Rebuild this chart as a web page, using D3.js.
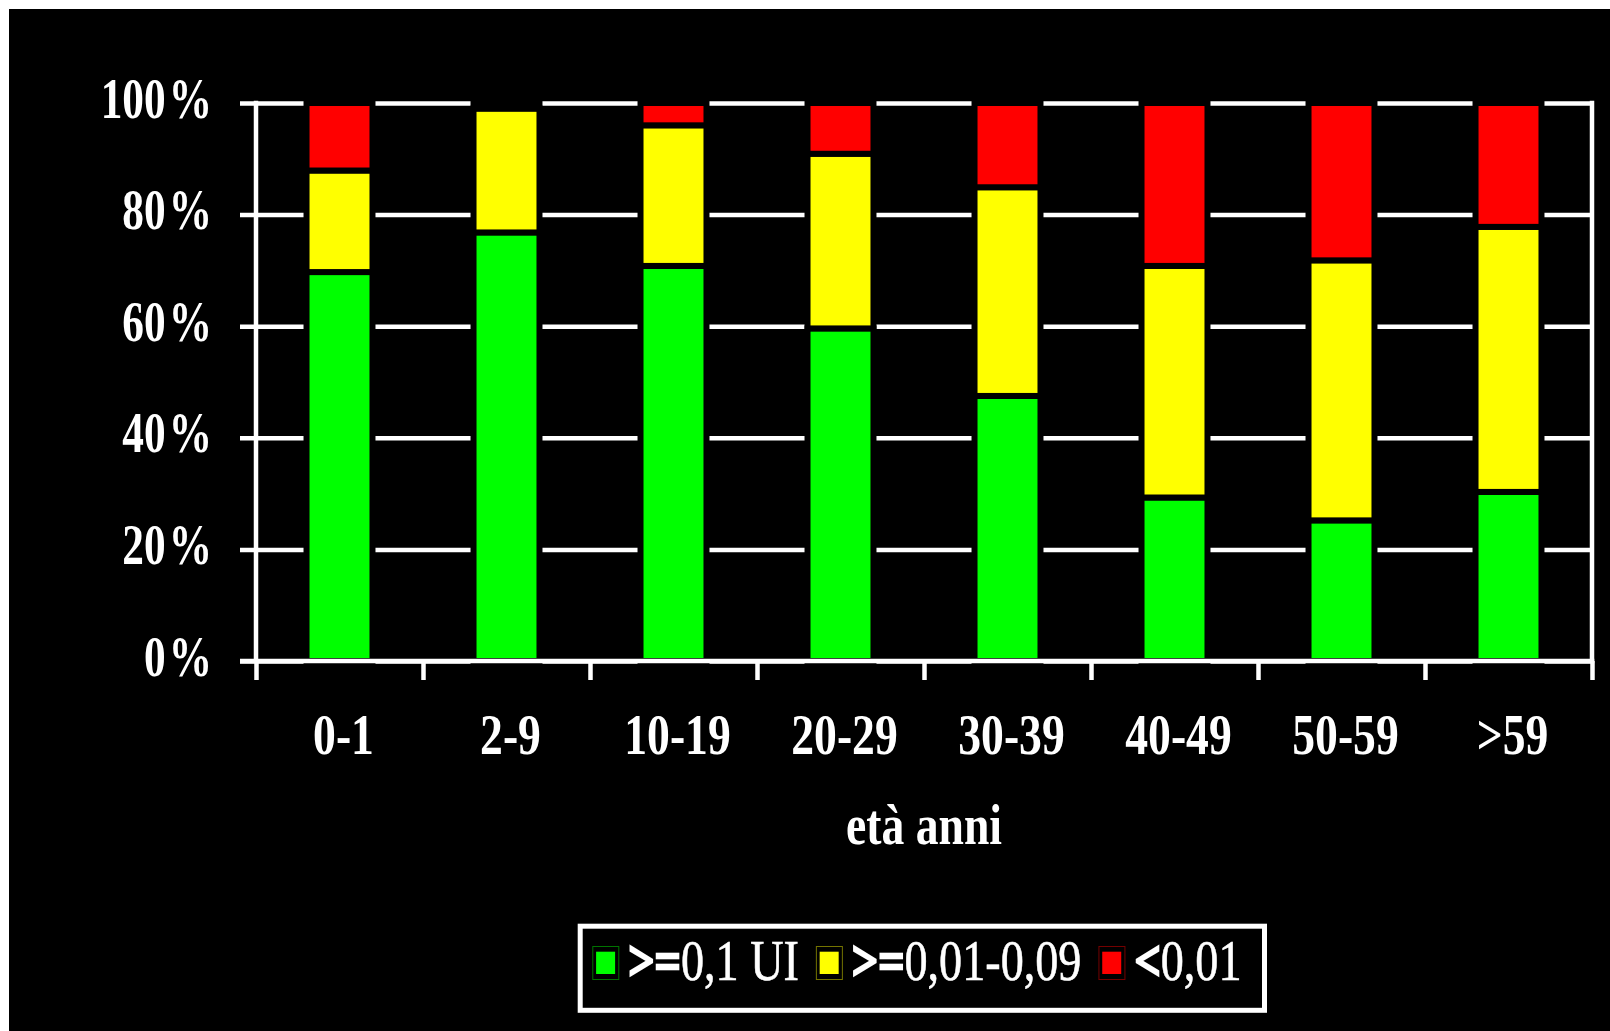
<!DOCTYPE html>
<html>
<head>
<meta charset="utf-8">
<script src="https://cdn.jsdelivr.net/npm/d3@7"></script>
<style>
  html, body { margin: 0; padding: 0; background: #fff; }
  svg { display: block; }
  text { font-family: "Liberation Serif", "Times New Roman", serif; fill: #fff; }
</style>
</head>
<body>
<svg id="chart" width="1610" height="1031"></svg>
<script>
// Age groups (years)
const categories = ["0-1", "2-9", "10-19", "20-29", "30-39", "40-49", "50-59", ">59"];

// Share of subjects per antibody level class (%)
const seriesHigh = [69.7, 76.8, 70.8, 59.6, 47.5, 29.3, 25.2, 30.3];   // >=0,1 UI
const seriesMid  = [18.2, 22.2, 25.2, 31.3, 37.4, 41.5, 46.6, 47.5];   // >=0,01-0,09
const seriesLow  = [12.1,  1.0,  4.0,  9.1, 15.1, 29.2, 28.2, 22.2];   // <0,01

const seriesNames  = [">=0,1 UI", ">=0,01-0,09", "<0,01"];
const seriesColors = ["#00ff00", "#ffff00", "#ff0000"];
const yTicks = [0, 20, 40, 60, 80, 100];
const xTitle = "età anni";

// ---- layout ----
const svg = d3.select("#chart");
const W = 1610, H = 1031;
const plot = { left: 256, right: 1592, top: 103, bottom: 661 };
const lineW = 4.5;
const sx = 0.8;          // horizontal condensing of the serif labels
const fontSize = 57;

// frame: thin white edge at top/left, black canvas
svg.append("rect").attr("x", 0).attr("y", 0).attr("width", W).attr("height", H).attr("fill", "#fff");
svg.append("rect").attr("x", 9).attr("y", 9).attr("width", W - 9).attr("height", H - 9).attr("fill", "#000");

const keys = ["high", "mid", "low"];
const rows = categories.map((c, i) => ({ cat: c, high: seriesHigh[i], mid: seriesMid[i], low: seriesLow[i] }));
const stacked = d3.stack().keys(keys)(rows);

const x = d3.scaleBand().domain(categories).range([plot.left, plot.right]).padding(0);
const xEdge = d3.scaleLinear().domain([0, categories.length]).range([plot.left, plot.right]);
const y = d3.scaleLinear().domain([0, 100]).range([plot.bottom, plot.top]);

// horizontal gridlines (start left of the axis as tick marks)
const gridX0 = 240;
const grid = svg.append("g")
  .attr("transform", `translate(${gridX0},0)`)
  .call(d3.axisRight(y).tickValues(yTicks).tickSize(plot.right - gridX0).tickFormat(""));
grid.select(".domain").remove();
grid.selectAll(".tick line").attr("stroke", "#fff").attr("stroke-width", lineW);

// stacked bars
const barW = x.bandwidth() * 0.395;
const colorOf = d3.scaleOrdinal().domain(keys).range(seriesColors);
svg.append("g").selectAll("g")
  .data(stacked)
  .join("g")
  .attr("fill", d => colorOf(d.key))
  .selectAll("rect")
  .data(d => d)
  .join("rect")
  .attr("x", d => x(d.data.cat) + x.bandwidth() / 2 - barW / 2)
  .attr("width", barW)
  .attr("y", d => y(d[1]))
  .attr("height", d => y(d[0]) - y(d[1]))
  .attr("stroke", "#000")
  .attr("stroke-width", 6);

// x axis with ticks at category boundaries
const xAxis = svg.append("g")
  .attr("transform", `translate(0,${plot.bottom})`)
  .call(d3.axisBottom(xEdge).tickValues(d3.range(categories.length + 1)).tickSize(19).tickSizeOuter(0).tickFormat(""));
xAxis.select(".domain").remove();
xAxis.selectAll(".tick line").attr("stroke", "#fff").attr("stroke-width", lineW);
svg.append("line")
  .attr("x1", gridX0).attr("x2", plot.right + lineW / 2)
  .attr("y1", plot.bottom).attr("y2", plot.bottom)
  .attr("stroke", "#fff").attr("stroke-width", lineW);

// left axis and right frame line
[plot.left, plot.right].forEach(px => {
  svg.append("line")
    .attr("x1", px).attr("x2", px)
    .attr("y1", plot.top - lineW / 2).attr("y2", plot.bottom)
    .attr("stroke", "#fff").attr("stroke-width", lineW);
});

// y tick labels (percent sign set slightly apart)
const yLab = svg.append("g").selectAll("text")
  .data(yTicks)
  .join("text")
  .attr("transform", d => `translate(212,${y(d) + 14.5}) scale(0.76,1)`)
  .attr("text-anchor", "end")
  .attr("font-weight", "bold")
  .attr("font-size", fontSize);
yLab.append("tspan").text(d => d);
yLab.append("tspan").attr("dx", 4).text("%");

// x category labels
svg.append("g").selectAll("text")
  .data(categories)
  .join("text")
  .attr("transform", d => `translate(${x(d) + x.bandwidth() / 2 + 4},754) scale(${sx},1)`)
  .attr("text-anchor", "middle")
  .attr("font-weight", "bold")
  .attr("font-size", fontSize)
  .text(d => d);

// x axis title
svg.append("text")
  .attr("transform", `translate(${(plot.left + plot.right) / 2},844) scale(${sx},1)`)
  .attr("text-anchor", "middle")
  .attr("font-weight", "bold")
  .attr("font-size", fontSize)
  .text(xTitle);

// legend
const legend = svg.append("g");
legend.append("rect")
  .attr("x", 580.2).attr("y", 926.2).attr("width", 684.3).attr("height", 84.1)
  .attr("fill", "#000").attr("stroke", "#fff").attr("stroke-width", 5);

const legSx = 0.81;
const legBase = 980;
let cursor = 592.3;
seriesNames.forEach((name, i) => {
  const col = seriesColors[i];
  legend.append("rect")
    .attr("x", cursor + 0.5).attr("y", 946.5).attr("width", 26).attr("height", 33)
    .attr("fill", "#000").attr("stroke", d3.color(col).darker(2.2)).attr("stroke-width", 1);
  legend.append("rect")
    .attr("x", cursor + 3.8).attr("y", 951.7).attr("width", 19).attr("height", 22.3)
    .attr("fill", col);
  cursor += 27 + 9;
  const m = name.match(/^([<>]=?)(.*)$/);
  const t = legend.append("text")
    .attr("transform", `translate(${cursor},${legBase}) scale(${legSx},1)`)
    .attr("font-size", 57);
  t.append("tspan").attr("font-weight", "bold")
    .attr("stroke", "#fff").attr("stroke-width", 2.5).text(m[1]);
  t.append("tspan").attr("stroke", "#fff").attr("stroke-width", 0.6).text(m[2]);
  cursor += t.node().getComputedTextLength() * legSx + 17;
});
</script>
</body>
</html>
